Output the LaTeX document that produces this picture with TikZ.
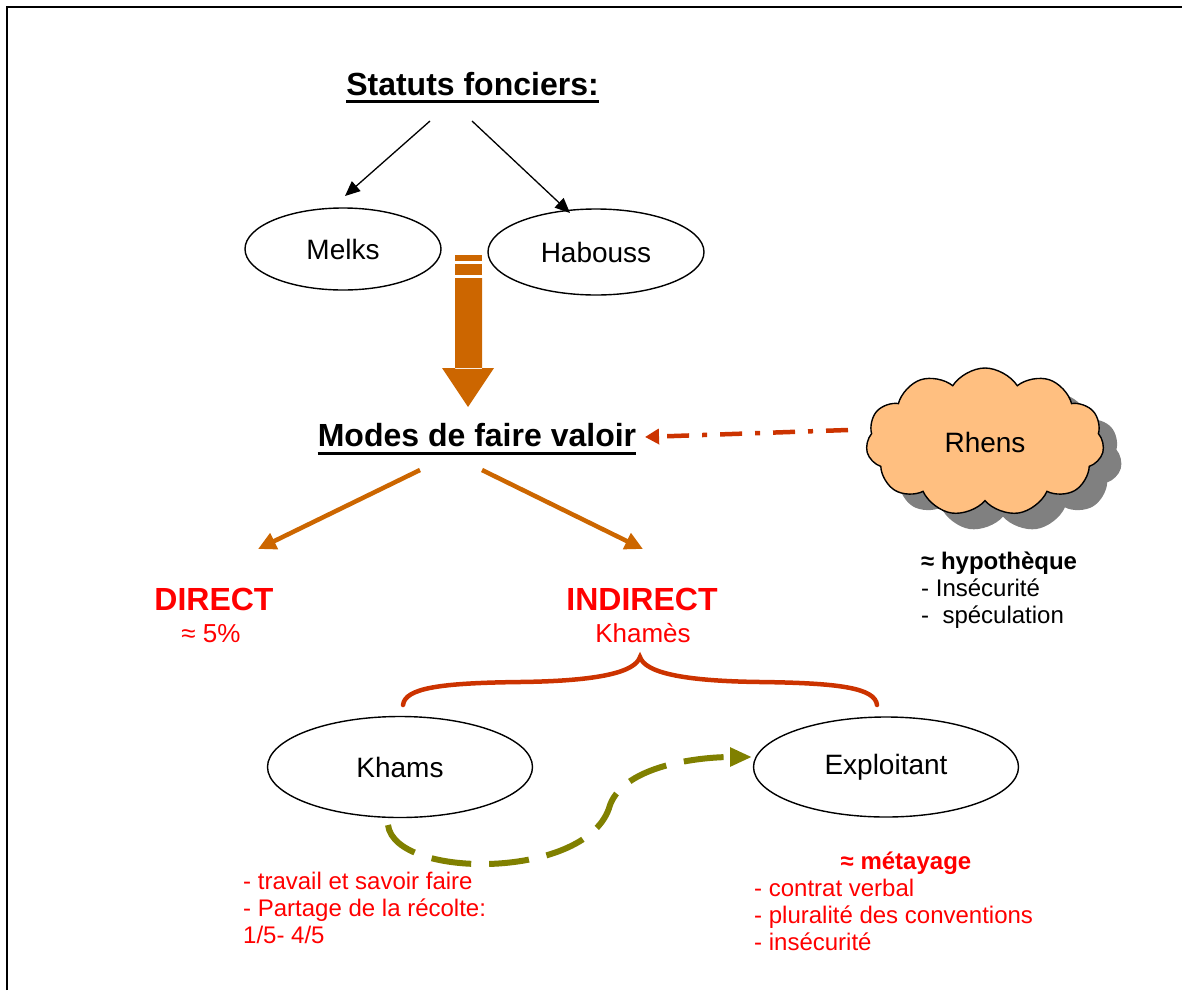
\documentclass[tikz,border=0pt]{standalone}
\usepackage{fontspec}
\setmainfont{Liberation Sans}
\usepackage{xcolor}
\usetikzlibrary{arrows.meta, shapes.geometric, shapes.symbols, shadows}
\definecolor{arrorange}{HTML}{CC6600}
\definecolor{rustred}{HTML}{CC3300}
\definecolor{olive}{HTML}{808000}
\definecolor{cloudfill}{HTML}{FFBF80}
\definecolor{shadowgray}{HTML}{808080}
\tikzset{
    oval/.style={ellipse, draw, line width=1.4pt, inner sep=0pt, font=\fontsize{28}{32}\selectfont},
    heading/.style={font=\fontsize{32}{36}\selectfont\bfseries, inner sep=0pt, anchor=base},
    redhead/.style={heading, text=red},
    redsub/.style={font=\fontsize{26}{30}\selectfont, text=red, inner sep=0pt, anchor=base},
    notes/.style={font=\fontsize{24}{26.7}\selectfont, align=left, inner sep=0pt, anchor=base west},
    blackarr/.style={-{Triangle[length=15pt,width=13pt]}, line width=1.3pt},
    splitarr/.style={-{Triangle[length=18pt,width=17pt]}, line width=4.5pt, draw=arrorange},
    rhenslink/.style={-{Triangle[length=14pt,width=15pt]}, line width=4.5pt, draw=rustred,
        dash pattern=on 22pt off 13pt on 5pt off 13pt},
    sharelink/.style={-{Triangle[length=22pt,width=18pt]}, line width=6pt, draw=olive,
        dash pattern=on 40pt off 18pt},
    brace/.style={line width=4.5pt, draw=rustred, line cap=round}
}

\begin{document}
\begin{tikzpicture}[x=1pt, y=-1pt]
    \useasboundingbox (0,0) rectangle (1182,990);
    \draw[line width=2pt] (7,990) -- (7,7) -- (1182,7);

    % land status
    \node[heading] (statuts) at (472.5,95) {Statuts fonciers:};
    \draw[line width=3pt] ([yshift=-6pt]statuts.base west) -- ([yshift=-6pt]statuts.base east);
    \node[oval, minimum width=196pt, minimum height=82pt] (melks) at (343,249) {Melks};
    \node[oval, minimum width=216pt, minimum height=86pt] (habouss) at (596,252) {Habouss};
    \coordinate (statl) at (430,121);
    \coordinate (statr) at (472,121);
    \coordinate (melksin) at (345,196);
    \coordinate (haboussin) at (570,213);
    \draw[blackarr] (statl) -- (melksin);
    \draw[blackarr] (statr) -- (haboussin);

    % striped arrow
    \fill[arrorange] (455,255) rectangle (482,261);
    \fill[arrorange] (455,264) rectangle (482,275);
    \fill[arrorange] (455,278) rectangle (482,369) (442,368) -- (494,368) -- (468,407) -- cycle;

    % modes
    \node[heading] (modes) at (477,446) {Modes de faire valoir};
    \draw[line width=3pt] ([yshift=-7pt]modes.base west) -- ([yshift=-7pt]modes.base east);
    \node[cloud, cloud puffs=11, cloud puff arc=115, aspect=1.6, draw, line width=1.4pt, fill=cloudfill,
        minimum width=238pt, minimum height=148pt, inner sep=0pt, font=\fontsize{28}{32}\selectfont,
        drop shadow={shadow xshift=18pt, shadow yshift=-16pt, fill=shadowgray, opacity=1}] (rhens) at (985,442) {Rhens};
    \coordinate (rhensout) at (848,430);
    \coordinate (modesin) at (645,437);
    \draw[rhenslink] (rhensout) -- (modesin);
    \node[notes] (hypo) at (921,623) {\textbf{≈ hypothèque}\\- Insécurité\\-\ \ spéculation};

    % direct / indirect
    \coordinate (modesl) at (420,470);
    \coordinate (modesr) at (482,470);
    \coordinate (directin) at (258,549);
    \coordinate (indirectin) at (643,549);
    \draw[splitarr] (modesl) -- (directin);
    \draw[splitarr] (modesr) -- (indirectin);
    \node[redhead] (direct) at (214,610) {DIRECT};
    \node[redsub] (pct) at (211,642) {≈ 5\%};
    \node[redhead] (indirect) at (642,610) {INDIRECT};
    \node[redsub] (khames) at (643,642) {Khamès};

    \draw[brace] (403,705) .. controls (405,688) and (440,683) .. (520,682)
        .. controls (600,681) and (635,672) .. (640,657)
        .. controls (645,672) and (680,681) .. (760,682)
        .. controls (840,683) and (875,688) .. (877,705);

    % khams / exploitant
    \node[oval, minimum width=265pt, minimum height=101pt] (khams) at (400,767) {Khams};
    \node[oval, minimum width=265pt, minimum height=100pt] (exploitant) at (886,767) {Exploitant};
    \coordinate (khamsout) at (388,825);
    \coordinate (exploitin) at (752,757);
    \draw[sharelink] (khamsout) .. controls (395,880) and (590,880) .. (610,805)
        .. controls (625,765) and (700,757) .. (exploitin);

    \node[notes, text=red] (khamsnotes) at (243,943) {- travail et savoir faire\\- Partage de la récolte:\\1/5- 4/5};
    \node[font=\fontsize{24}{26.7}\selectfont\bfseries, text=red, inner sep=0pt, anchor=base] (metayage) at (906,869) {≈ métayage};
    \node[notes, text=red] (exploitnotes) at (754,950) {- contrat verbal\\- pluralité des conventions\\- insécurité};
\end{tikzpicture}
\end{document}
